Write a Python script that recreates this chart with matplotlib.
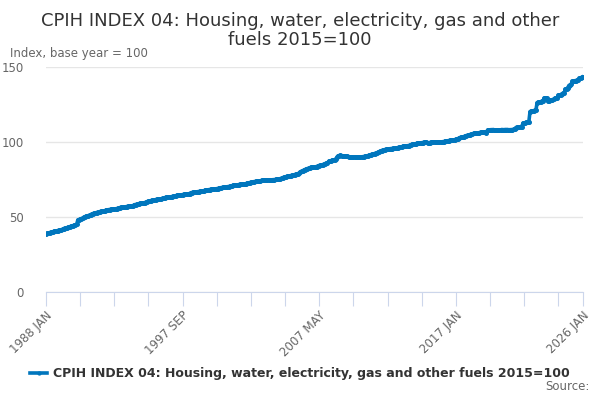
import numpy as np
import matplotlib

matplotlib.use("Agg")
import matplotlib.pyplot as plt

TITLE_LINES = ["CPIH INDEX 04: Housing, water, electricity, gas and other",
               "fuels 2015=100"]
SERIES_NAME = "CPIH INDEX 04: Housing, water, electricity, gas and other fuels 2015=100"
Y_LABEL = "Index, base year = 100"

# monthly index values, one row per year (1988 JAN .. 2025 DEC), then 2026 JAN
Y1988 = [39.1, 39.3, 39.5, 39.8, 40.0, 40.2, 40.4, 40.6, 40.8, 41.0, 41.2, 41.4]
Y1989 = [41.6, 41.8, 42.0, 42.5, 42.7, 42.9, 43.1, 43.4, 43.6, 43.9, 44.1, 44.4]
Y1990 = [44.7, 45.0, 45.3, 48.2, 48.5, 48.8, 49.2, 49.5, 49.9, 50.3, 50.6, 50.9]
Y1991 = [51.2, 51.5, 51.8, 52.3, 52.5, 52.7, 53.0, 53.2, 53.4, 53.6, 53.8, 54.0]
Y1992 = [54.1, 54.2, 54.3, 54.9, 55.0, 55.1, 55.2, 55.3, 55.4, 55.5, 55.6, 55.7]
Y1993 = [55.8, 55.9, 56.0, 56.5, 56.6, 56.7, 56.8, 56.9, 57.1, 57.2, 57.3, 57.4]
Y1994 = [57.5, 57.6, 57.7, 58.4, 58.5, 58.7, 58.9, 59.1, 59.3, 59.4, 59.6, 59.7]
Y1995 = [59.8, 60.0, 60.1, 60.7, 60.9, 61.1, 61.3, 61.4, 61.6, 61.8, 61.9, 62.0]
Y1996 = [62.1, 62.3, 62.4, 62.8, 62.9, 63.1, 63.3, 63.4, 63.5, 63.6, 63.7, 63.8]
Y1997 = [63.9, 64.0, 64.1, 64.6, 64.7, 64.8, 64.9, 65.0, 65.1, 65.3, 65.4, 65.5]
Y1998 = [65.6, 65.7, 65.8, 66.4, 66.5, 66.6, 66.8, 66.9, 67.0, 67.1, 67.2, 67.3]
Y1999 = [67.4, 67.5, 67.6, 68.0, 68.2, 68.3, 68.4, 68.5, 68.6, 68.7, 68.8, 68.9]
Y2000 = [69.0, 69.1, 69.2, 69.6, 69.7, 69.8, 69.9, 70.0, 70.1, 70.3, 70.4, 70.5]
Y2001 = [70.6, 70.7, 70.8, 71.3, 71.4, 71.5, 71.6, 71.7, 71.8, 71.9, 72.0, 72.1]
Y2002 = [72.2, 72.3, 72.4, 72.9, 73.0, 73.1, 73.3, 73.5, 73.7, 73.8, 73.9, 74.0]
Y2003 = [74.0, 74.1, 74.2, 74.6, 74.7, 74.7, 74.8, 74.8, 74.9, 74.9, 75.0, 75.0]
Y2004 = [75.0, 75.1, 75.1, 75.2, 75.3, 75.4, 75.6, 75.8, 76.1, 76.4, 76.6, 76.8]
Y2005 = [77.0, 77.2, 77.3, 77.7, 77.8, 78.0, 78.2, 78.4, 78.7, 78.9, 79.1, 79.3]
Y2006 = [80.4, 80.7, 80.9, 81.5, 81.8, 82.2, 82.5, 82.7, 83.0, 83.2, 83.4, 83.5]
Y2007 = [83.6, 83.7, 83.8, 84.3, 84.5, 84.7, 84.9, 85.1, 85.3, 85.6, 85.9, 86.2]
Y2008 = [87.3, 87.5, 87.6, 88.0, 88.2, 88.4, 88.8, 89.9, 90.9, 91.1, 91.2, 91.1]
Y2009 = [91.0, 90.9, 90.8, 90.8, 90.6, 90.4, 90.3, 90.2, 90.1, 90.0, 90.0, 90.0]
Y2010 = [90.0, 89.9, 89.9, 90.2, 90.3, 90.4, 90.5, 90.6, 90.8, 91.0, 91.2, 91.5]
Y2011 = [91.8, 92.0, 92.1, 92.5, 92.7, 92.9, 93.2, 93.6, 93.9, 94.5, 94.8, 95.0]
Y2012 = [95.1, 95.2, 95.3, 95.6, 95.7, 95.8, 95.8, 95.9, 95.9, 96.0, 96.3, 96.5]
Y2013 = [96.6, 96.7, 96.8, 97.3, 97.4, 97.5, 97.6, 97.7, 97.8, 98.0, 98.3, 98.6]
Y2014 = [98.7, 98.8, 98.9, 99.3, 99.4, 99.5, 99.6, 99.7, 99.8, 99.9, 100.0, 100.0]
Y2015 = [99.7, 99.7, 99.8, 100.0, 100.0, 100.0, 100.1, 100.1, 100.1, 100.1, 100.2, 100.2]
Y2016 = [100.3, 100.4, 100.4, 100.8, 100.9, 101.0, 101.1, 101.2, 101.3, 101.4, 101.5, 101.6]
Y2017 = [102.0, 102.2, 102.4, 103.0, 103.2, 103.4, 103.6, 103.8, 104.1, 104.5, 104.7, 104.9]
Y2018 = [105.1, 105.2, 105.4, 105.9, 106.0, 106.1, 106.2, 106.3, 106.4, 106.7, 106.8, 106.9]
Y2019 = [106.7, 106.6, 106.5, 108.2, 108.3, 108.3, 108.4, 108.4, 108.5, 108.0, 108.0, 108.1]
Y2020 = [108.1, 108.2, 108.2, 108.5, 108.4, 108.4, 108.5, 108.5, 108.5, 108.3, 108.4, 108.4]
Y2021 = [108.5, 108.6, 108.6, 109.8, 109.9, 110.0, 110.2, 110.3, 110.5, 112.6, 112.8, 113.0]
Y2022 = [113.3, 113.5, 113.7, 120.4, 120.6, 120.8, 121.0, 121.2, 121.4, 126.3, 126.5, 126.7]
Y2023 = [127.0, 127.3, 127.6, 129.3, 129.5, 129.6, 127.5, 127.7, 127.9, 128.2, 128.4, 128.6]
Y2024 = [129.3, 129.6, 129.8, 131.2, 131.5, 131.7, 132.2, 132.5, 132.8, 135.3, 135.7, 136.2]
Y2025 = [137.8, 138.2, 138.6, 140.6, 140.8, 141.0, 141.1, 141.3, 141.6, 142.6, 142.9, 143.2]
Y2026 = [143.7]

YEARS = [
    Y1988, Y1989, Y1990, Y1991, Y1992, Y1993, Y1994, Y1995, Y1996, Y1997,
    Y1998, Y1999, Y2000, Y2001, Y2002, Y2003, Y2004, Y2005, Y2006, Y2007,
    Y2008, Y2009, Y2010, Y2011, Y2012, Y2013, Y2014, Y2015, Y2016, Y2017,
    Y2018, Y2019, Y2020, Y2021, Y2022, Y2023, Y2024, Y2025, Y2026,
]

TICK_LABELS = ["1988 JAN", "1997 SEP", "2007 MAY", "2017 JAN", "2026 JAN"]
LABEL_MONTHS = [0, 116, 232, 348, 456]  # months since 1988 JAN
Y_TICKS = [0, 50, 100, 150]

BLUE = "#0076bd"
GREY = "#666666"
AXIS = "#ccd6eb"

values = np.concatenate([np.asarray(y, dtype=float) for y in YEARS])
months = np.arange(len(values))

fig = plt.figure(figsize=(6, 4), dpi=100)
ax = fig.add_axes([0.0767, 0.269, 0.895, 0.563])

ax.plot(months, values, color=BLUE, lw=2.6, marker="o", ms=2.6,
        label=SERIES_NAME, zorder=3)

ax.set_xlim(0, months[-1])
ax.set_ylim(0, 150)
ax.set_yticks(Y_TICKS)
ax.set_yticklabels([str(v) for v in Y_TICKS])
ax.grid(axis="y", color="#e6e6e6", lw=1)
ax.set_axisbelow(True)
for side in ("top", "right", "left"):
    ax.spines[side].set_visible(False)
ax.spines["bottom"].set_color(AXIS)
ax.tick_params(axis="y", length=0, colors=GREY, labelsize=8.5, pad=16)

# ticks every 29 months plus the last month; labels only on some
minor = list(range(0, months[-1], 29)) + [int(months[-1])]
ax.set_xticks(minor)
ax.set_xticklabels([TICK_LABELS[LABEL_MONTHS.index(m)] if m in LABEL_MONTHS else ""
                    for m in minor])
ax.tick_params(axis="x", length=10, color=AXIS, colors=GREY, labelsize=8.5, pad=2)
for lab in ax.get_xticklabels():
    lab.set_rotation(45)
    lab.set_horizontalalignment("right")
    lab.set_verticalalignment("top")
    lab.set_rotation_mode("anchor")

# title drawn line by line so each line keeps its own extent
fig.text(0.5, 0.948, TITLE_LINES[0], ha="center", va="center", fontsize=13, color="#333333")
fig.text(0.5, 0.900, TITLE_LINES[1], ha="center", va="center", fontsize=13, color="#333333")
fig.text(0.017, 0.867, Y_LABEL, ha="left", va="center", fontsize=8.5, color=GREY)

fig.legend(loc="center", bbox_to_anchor=(0.5, 0.066), frameon=False,
           prop={"weight": "bold", "size": 9}, labelcolor="#333333",
           handlelength=1.3, handletextpad=0.5, markerscale=0.8)
fig.text(0.982, 0.025, "Source:", fontsize=8.5, color=GREY, ha="right")

fig.savefig("out.png", dpi=100)
